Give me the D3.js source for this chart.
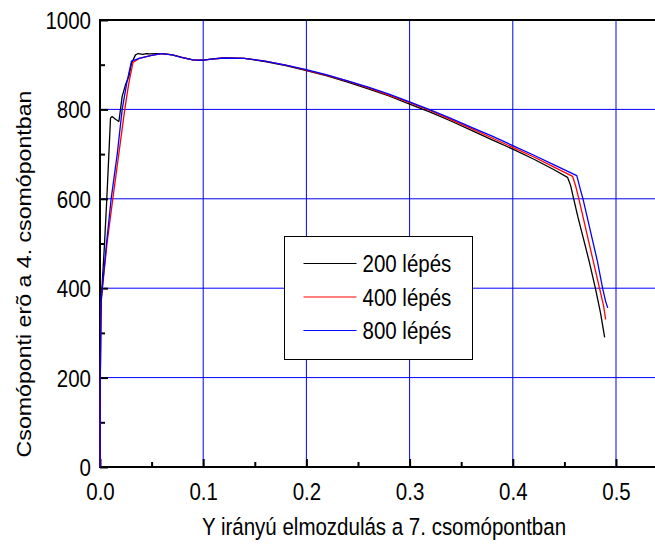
<!DOCTYPE html>
<html>
<head>
<meta charset="utf-8">
<script src="https://cdn.jsdelivr.net/npm/d3@7"></script>
<style>
  html, body { margin: 0; padding: 0; background: #fff; }
  svg { display: block; }
  text { font-family: "Liberation Sans", Arial, sans-serif; fill: #000; }
</style>
</head>
<body>
<svg id="chart" width="655" height="545"></svg>
<script>
// Load–displacement curves for three step counts
const seriesNames = ["200 lépés", "400 lépés", "800 lépés"];
const seriesColors = ["#000000", "#ff0000", "#0000ff"];

// [displacement, force] pairs
const steps200 = [
  [0, 0], [0.0003, 200], [0.0008, 330], [0.0014, 380], [0.0044, 500], [0.0066, 600],
  [0.0086, 700], [0.0102, 781], [0.0118, 784], [0.0150, 778], [0.0183, 773],
  [0.0215, 829], [0.0247, 855], [0.028, 874], [0.0305, 903], [0.0344, 922],
  [0.037, 925], [0.0415, 923], [0.045, 925], [0.048, 924], [0.055, 925], [0.06, 925],
  [0.07, 922], [0.08, 916], [0.09, 911], [0.1, 910], [0.11, 913], [0.12, 915],
  [0.14, 914], [0.16, 907], [0.18, 898], [0.2, 887], [0.22, 875], [0.24, 861],
  [0.26, 846], [0.28, 830], [0.30, 812], [0.32, 794], [0.34, 774], [0.36, 753],
  [0.38, 732], [0.40, 711], [0.42, 689], [0.44, 665], [0.453, 648],
  [0.456, 630], [0.459, 600], [0.463, 560], [0.468, 515], [0.474, 460],
  [0.480, 400], [0.485, 345], [0.489, 290]
];
const steps400 = [
  [0, 0], [0.0003, 200], [0.0008, 330], [0.0014, 380], [0.0068, 500], [0.0124, 600],
  [0.0182, 700], [0.024, 800], [0.028, 860], [0.032, 905], [0.038, 914], [0.05, 921],
  [0.06, 925], [0.07, 922], [0.08, 916], [0.09, 911], [0.1, 910], [0.11, 913],
  [0.12, 915], [0.14, 914], [0.16, 908], [0.18, 899], [0.2, 888], [0.22, 876],
  [0.24, 863], [0.26, 848], [0.28, 832], [0.30, 815], [0.32, 797], [0.34, 777],
  [0.36, 757], [0.38, 736], [0.40, 715], [0.42, 694], [0.44, 671], [0.458, 650],
  [0.461, 628], [0.464, 600], [0.468, 560], [0.473, 510], [0.478, 460],
  [0.484, 400], [0.488, 360], [0.490, 330]
];
const steps800 = [
  [0, 0], [0.0003, 200], [0.0008, 330], [0.0014, 380], [0.0063, 500], [0.0108, 600],
  [0.0167, 700], [0.0215, 800], [0.026, 860], [0.0305, 908], [0.038, 914], [0.05, 921],
  [0.06, 925], [0.07, 922], [0.08, 916], [0.09, 911], [0.1, 910], [0.11, 913],
  [0.12, 915], [0.14, 914], [0.16, 908], [0.18, 899], [0.2, 889], [0.22, 877],
  [0.24, 864], [0.26, 850], [0.28, 834], [0.30, 817], [0.32, 799], [0.34, 780],
  [0.36, 760], [0.38, 740], [0.40, 719], [0.42, 698], [0.44, 676], [0.462, 652],
  [0.465, 625], [0.468, 600], [0.472, 560], [0.477, 510], [0.482, 460],
  [0.487, 400], [0.490, 370], [0.492, 356]
];
const allSeries = [steps200, steps400, steps800];

const xMajorTicks = [0, 0.1, 0.2, 0.3, 0.4, 0.5];
const xMinorTicks = [0.05, 0.15, 0.25, 0.35, 0.45, 0.55];
const yMajorTicks = [0, 200, 400, 600, 800, 1000];
const yMinorTicks = [100, 300, 500, 700, 900];

const xTitle = "Y irányú elmozdulás a 7. csomópontban";
const yTitle = "Csomóponti erõ a 4. csomópontban";

const svg = d3.select("#chart");
const plotLeft = 100, plotRight = 655, plotTop = 20, plotBottom = 467;
const fontSize = 20.5;
const stretch = 1.13; // glyphs are drawn slightly taller than wide

const x = d3.scaleLinear().domain([0, 0.5]).range([plotLeft, 616]);
const y = d3.scaleLinear().domain([0, 1000]).range([plotBottom, plotTop]);

// grid
const grid = svg.append("g").attr("stroke", "#0000ff").attr("stroke-width", 1);
grid.selectAll("line.vx").data(xMajorTicks.filter(d => d > 0)).enter().append("line")
  .attr("x1", d => x(d)).attr("x2", d => x(d)).attr("y1", plotTop).attr("y2", plotBottom);
grid.selectAll("line.hy").data(yMajorTicks.filter(d => d > 0 && d < 1000)).enter().append("line")
  .attr("x1", plotLeft).attr("x2", plotRight).attr("y1", d => y(d)).attr("y2", d => y(d));

// axes built with d3 axis generators, ticks pointing inward
const xAxisMajor = d3.axisBottom(x).tickValues(xMajorTicks).tickSize(-8).tickFormat(d3.format(".1f"));
const xAxisMinor = d3.axisBottom(x).tickValues(xMinorTicks.filter(d => x(d) < plotRight)).tickSize(-5).tickFormat("");
const yAxisMajor = d3.axisLeft(y).tickValues(yMajorTicks).tickSize(-8).tickFormat(d3.format("d"));
const yAxisMinor = d3.axisLeft(y).tickValues(yMinorTicks).tickSize(-5).tickFormat("");

function styleAxis(g) {
  g.select(".domain").remove();
  g.selectAll(".tick line").attr("stroke", "#000").attr("stroke-width", 2);
  g.selectAll(".tick text")
    .attr("font-size", fontSize)
    .attr("font-family", "'Liberation Sans', Arial, sans-serif")
    .attr("fill", "#000");
}

svg.append("g").attr("transform", `translate(0,${plotBottom})`).call(xAxisMajor).call(styleAxis)
  .selectAll(".tick text")
  .attr("y", null).attr("dy", null)
  .attr("transform", `translate(0,33) scale(1,${stretch})`);
svg.append("g").attr("transform", `translate(0,${plotBottom})`).call(xAxisMinor).call(styleAxis);
svg.append("g").attr("transform", `translate(${plotLeft},0)`).call(yAxisMajor).call(styleAxis)
  .selectAll(".tick text")
  .attr("x", null).attr("dy", null)
  .attr("transform", `translate(-9,8.5) scale(1,${stretch})`);
svg.append("g").attr("transform", `translate(${plotLeft},0)`).call(yAxisMinor).call(styleAxis);

// frame lines: left, bottom, top
const frame = svg.append("g").attr("stroke", "#000").attr("stroke-width", 2);
frame.append("line").attr("x1", plotLeft).attr("x2", plotLeft).attr("y1", plotTop - 1).attr("y2", plotBottom + 1);
frame.append("line").attr("x1", plotLeft - 1).attr("x2", plotRight).attr("y1", plotBottom).attr("y2", plotBottom);
frame.append("line").attr("x1", plotLeft - 1).attr("x2", plotRight).attr("y1", plotTop).attr("y2", plotTop);

// curves
const line = d3.line().x(d => x(d[0])).y(d => y(d[1]));
svg.append("g").selectAll("path").data(allSeries).enter().append("path")
  .attr("d", line)
  .attr("fill", "none")
  .attr("stroke", (d, i) => seriesColors[i])
  .attr("stroke-width", 1.3)
  .attr("stroke-linejoin", "round");

// axis titles
svg.append("text")
  .attr("transform", `translate(384,535) scale(1,${stretch})`)
  .attr("text-anchor", "middle")
  .attr("font-size", fontSize)
  .text(xTitle);

svg.append("text")
  .attr("transform", `translate(31,274) rotate(-90) scale(${stretch},1)`)
  .attr("text-anchor", "middle")
  .attr("font-size", fontSize)
  .text(yTitle);

// legend
const legend = svg.append("g").attr("transform", "translate(284.5,236.5)");
legend.append("rect")
  .attr("width", 188).attr("height", 123)
  .attr("fill", "#fff").attr("stroke", "#000").attr("stroke-width", 1);
const rows = legend.selectAll("g.row").data(seriesNames).enter().append("g")
  .attr("transform", (d, i) => `translate(0,${27 + i * 33.5})`);
rows.append("line")
  .attr("x1", 19).attr("x2", 72).attr("y1", 0).attr("y2", 0)
  .attr("stroke", (d, i) => seriesColors[i]).attr("stroke-width", 1.2);
rows.append("text")
  .attr("transform", `translate(78,8.5) scale(1,${stretch})`)
  .attr("font-size", fontSize)
  .text(d => d);
</script>
</body>
</html>
